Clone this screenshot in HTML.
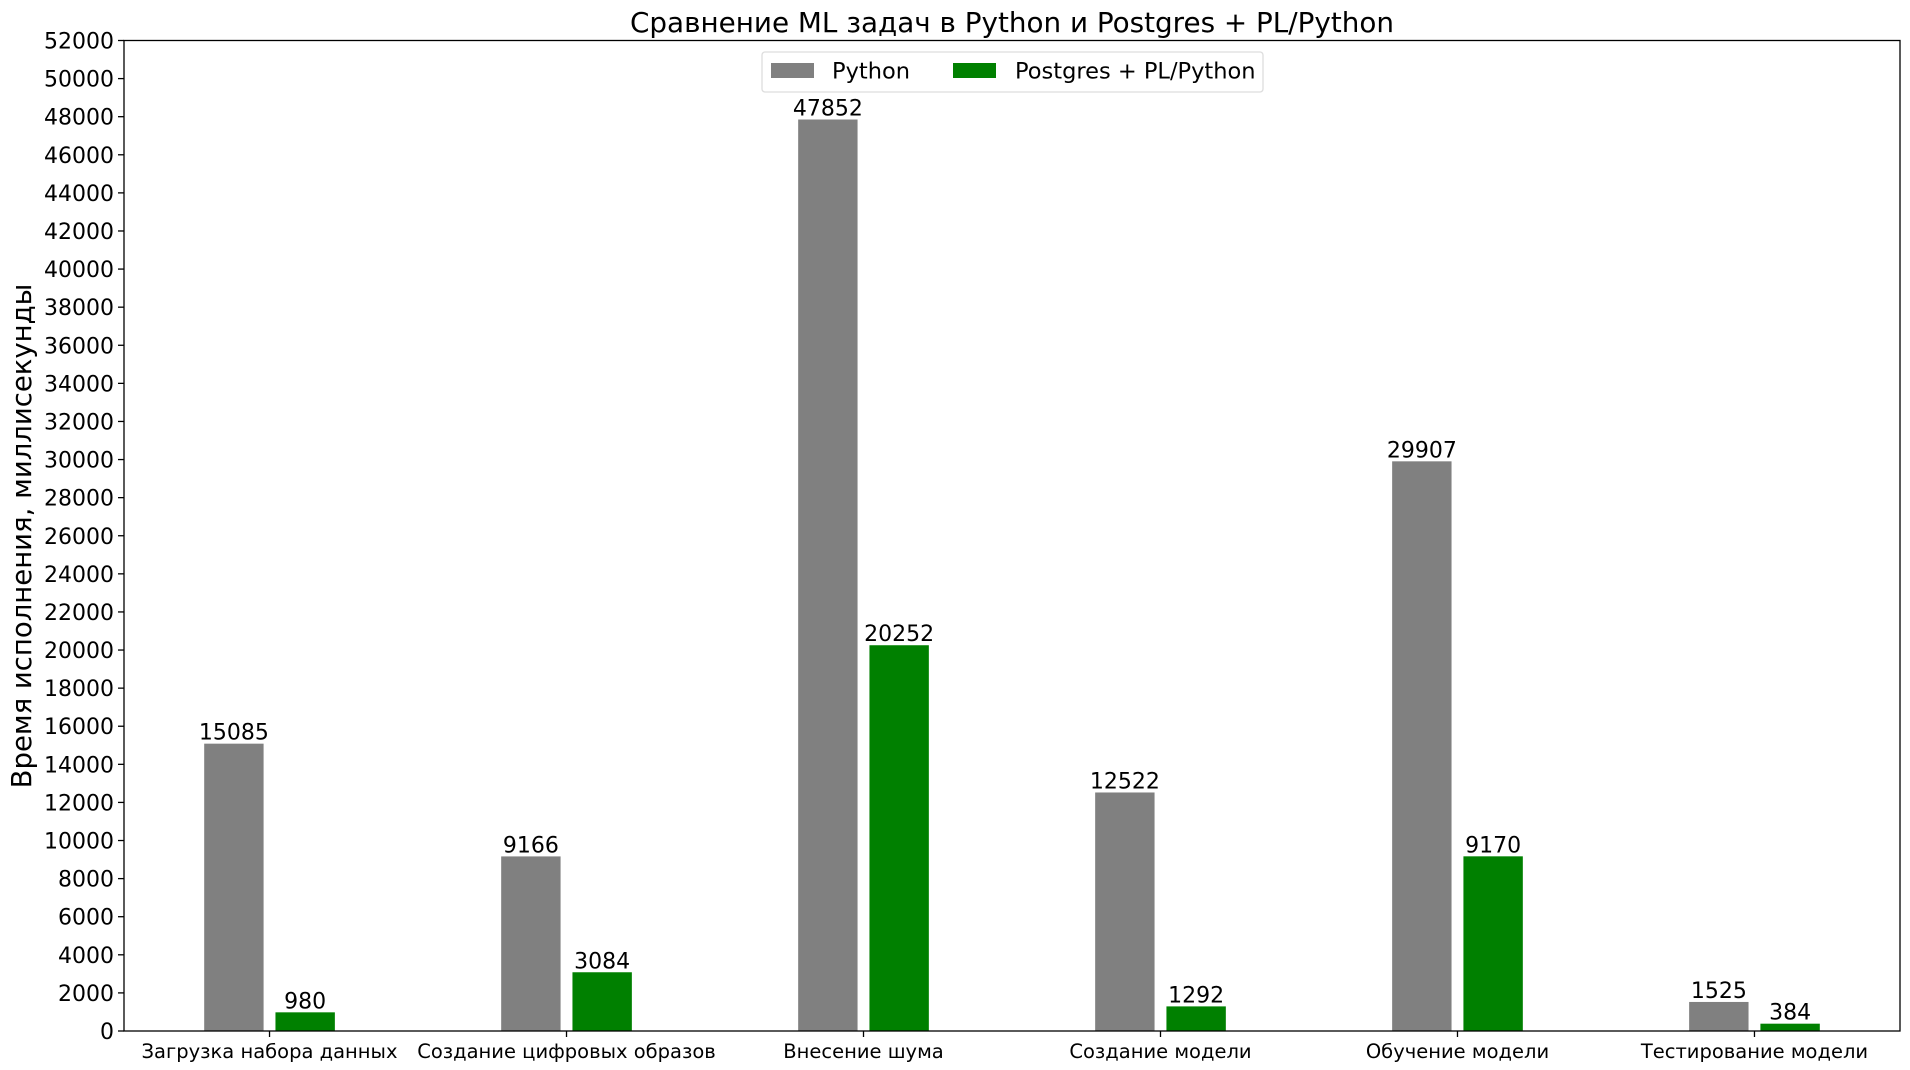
<!DOCTYPE html>
<html><head><meta charset="utf-8"><style>
html,body{margin:0;padding:0;background:#fff}
svg{display:block;font-family:"DejaVu Sans","Liberation Sans",sans-serif}
</style></head><body>
<svg id="chart" width="1910" height="1070" viewBox="0 0 1910 1070" xmlns="http://www.w3.org/2000/svg">
<text x="1012" y="32" font-size="27.8" text-anchor="middle">Сравнение ML задач в Python и Postgres + PL/Python</text>
<text transform="translate(31,536) rotate(-90)" font-size="27.5" text-anchor="middle">Время исполнения, миллисекунды</text>
<g id="plot"></g>
<rect x="124" y="40.5" width="1776" height="990.5" fill="none" stroke="#000" stroke-width="1.3"/>
<g>
<rect x="762" y="52" width="501" height="40" rx="3" fill="#fff" stroke="#ddd" stroke-width="1.3"/>
<rect x="771" y="63" width="43" height="15" fill="#808080"/>
<text x="832" y="78.5" font-size="22.5">Python</text>
<rect x="953" y="63" width="43" height="15" fill="#008000"/>
<text x="1015" y="78.5" font-size="22.5">Postgres + PL/Python</text>
</g>
</svg>
<script>
const categories=["Загрузка набора данных","Создание цифровых образов","Внесение шума","Создание модели","Обучение модели","Тестирование модели"];
const pythonValues=[15085,9166,47852,12522,29907,1525];
const postgresValues=[980,3084,20252,1292,9170,384];
const yTicks=[0,2000,4000,6000,8000,10000,12000,14000,16000,18000,20000,22000,24000,26000,28000,30000,32000,34000,36000,38000,40000,42000,44000,46000,48000,50000,52000];
const NS="http://www.w3.org/2000/svg";
const L=124,R=1900,T=40.5,B=1031,YMAX=52000;
const y=v=>B-(v/YMAX)*(B-T);
const step=(R-L)/(categories.length-1+0.98);
const x=i=>L+step*0.49+i*step;
const bw=step*0.2, off=step*0.12;
const g=document.getElementById('plot');
function mk(tag,attrs,txt){const e=document.createElementNS(NS,tag);for(const k in attrs)e.setAttribute(k,attrs[k]);if(txt!==undefined)e.textContent=txt;g.appendChild(e);return e;}
yTicks.forEach(t=>{
  const l=mk('line',{x1:L-6,x2:L,y1:y(t),y2:y(t),stroke:'#000','stroke-width':1.3});
  
  
  const tx=mk('text',{x:L-10,y:y(t)+8,'font-size':22,'text-anchor':'end'},String(t));
  
  
});
categories.forEach((c,i)=>{
  const cx=x(i);
  const tk=mk('line',{x1:cx,x2:cx,y1:B,y2:B+6,stroke:'#000','stroke-width':1.3});
  
  
  const lb=mk('text',{x:cx,y:B+27,'font-size':19.5,'text-anchor':'middle'},c);
  
  
  [[pythonValues[i],'#808080',-off,'python'],[postgresValues[i],'#008000',off,'postgres']].forEach(([v,col,o,s])=>{
    const bx=cx+o-bw/2;
    const r=mk('rect',{x:bx,y:y(v),width:bw,height:B-y(v),fill:col});
    
    
    const vt=mk('text',{x:cx+o,y:y(v)-4,'font-size':22,'text-anchor':'middle'},String(v));
    
    
  });
});
</script>
</body></html>
